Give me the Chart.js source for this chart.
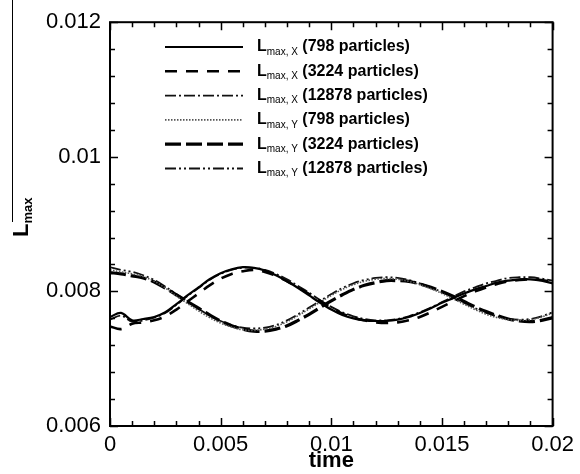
<!DOCTYPE html>
<html>
<head>
<meta charset="utf-8">
<script src="https://cdn.jsdelivr.net/npm/chart.js@4.4.1/dist/chart.umd.min.js"></script>
<style>
html,body{margin:0;padding:0;background:#fff;}
#wrap{width:580px;height:474px;position:relative;}
</style>
</head>
<body>
<div id="wrap"><canvas id="c" width="580" height="474"></canvas></div>
<script>
// ---- data ----
const times = [0,0.0005,0.001,0.0015,0.002,0.0025,0.003,0.0035,0.004,0.0045,0.005,0.0055,0.006,0.0065,0.007,0.0075,0.008,0.0085,0.009,0.0095,0.01,0.0105,0.011,0.0115,0.012,0.0125,0.013,0.0135,0.014,0.0145,0.015,0.0155,0.016,0.0165,0.017,0.0175,0.018,0.0185,0.019,0.0195,0.02];

const lmaxX_798 = [0.00762,0.00768,0.00757,0.00759,0.00762,0.00769,0.00781,0.00794,0.00806,0.00818,0.00827,0.00833,0.00836,0.00835,0.00831,0.00824,0.00815,0.00805,0.00794,0.00783,0.00773,0.00765,0.00760,0.00757,0.00756,0.00756,0.00758,0.00762,0.00768,0.00775,0.00783,0.00790,0.00797,0.00803,0.00808,0.00813,0.00816,0.00818,0.00818,0.00816,0.00812];
const lmaxX_3224 = [0.00748,0.00744,0.00752,0.00754,0.00757,0.00763,0.00773,0.00785,0.00797,0.00809,0.00819,0.00826,0.00830,0.00832,0.00829,0.00823,0.00815,0.00806,0.00796,0.00786,0.00776,0.00767,0.00761,0.00757,0.00754,0.00753,0.00754,0.00757,0.00762,0.00769,0.00777,0.00785,0.00793,0.00800,0.00806,0.00811,0.00815,0.00817,0.00818,0.00817,0.00814];
const lmaxX_12878 = [0.00758,0.00764,0.00755,0.00757,0.00761,0.00768,0.00780,0.00793,0.00805,0.00817,0.00826,0.00832,0.00835,0.00835,0.00832,0.00826,0.00818,0.00808,0.00798,0.00787,0.00777,0.00769,0.00763,0.00759,0.00757,0.00757,0.00759,0.00763,0.00769,0.00776,0.00784,0.00792,0.00800,0.00806,0.00812,0.00816,0.00820,0.00821,0.00821,0.00819,0.00816];
const lmaxY_798 = [0.00832,0.00829,0.00826,0.00822,0.00815,0.00805,0.00793,0.00782,0.00771,0.00761,0.00753,0.00747,0.00743,0.00742,0.00744,0.00748,0.00755,0.00764,0.00774,0.00784,0.00794,0.00803,0.00810,0.00815,0.00818,0.00819,0.00818,0.00815,0.00810,0.00804,0.00797,0.00789,0.00781,0.00773,0.00766,0.00761,0.00758,0.00757,0.00758,0.00762,0.00768];
const lmaxY_3224 = [0.00828,0.00826,0.00823,0.00820,0.00814,0.00805,0.00795,0.00785,0.00775,0.00765,0.00756,0.00749,0.00744,0.00741,0.00741,0.00744,0.00749,0.00757,0.00766,0.00776,0.00786,0.00795,0.00803,0.00809,0.00813,0.00816,0.00816,0.00815,0.00811,0.00806,0.00800,0.00793,0.00785,0.00777,0.00770,0.00764,0.00759,0.00756,0.00755,0.00757,0.00761];
const lmaxY_12878 = [0.00836,0.00832,0.00829,0.00824,0.00817,0.00807,0.00796,0.00785,0.00774,0.00764,0.00756,0.00750,0.00746,0.00745,0.00746,0.00750,0.00757,0.00766,0.00776,0.00786,0.00796,0.00805,0.00812,0.00817,0.00820,0.00821,0.00820,0.00817,0.00812,0.00806,0.00799,0.00791,0.00783,0.00775,0.00768,0.00763,0.00759,0.00758,0.00759,0.00763,0.00769];

const seriesSub = ["max, X","max, X","max, X","max, Y","max, Y","max, Y"];
const seriesNote = [" (798 particles)"," (3224 particles)"," (12878 particles)"," (798 particles)"," (3224 particles)"," (12878 particles)"];
const xTicks = [0,0.005,0.01,0.015,0.02];
const yTicks = [0.006,0.008,0.01,0.012];
const xTickLabels = ["0","0.005","0.01","0.015","0.02"];
const yTickLabels = ["0.006","0.008","0.01","0.012"];

const FONT = "'Liberation Sans', Arial, Helvetica, sans-serif";

const seriesValues = [lmaxX_798,lmaxX_3224,lmaxX_12878,lmaxY_798,lmaxY_3224,lmaxY_12878];
const styles = [
  {w:2.2, dash:[], color:'#000'},
  {w:2.6, dash:[12,9], color:'#000'},
  {w:1.8, dash:[11,3,2,3], color:'#111'},
  {w:1.6, dash:[1.5,1.5], color:'#555'},
  {w:3.2, dash:[16,5], color:'#000'},
  {w:1.8, dash:[11,3,2,3,2,3], color:'#111'}
];

const datasets = seriesValues.map((vals,i)=>({
  label: 'L' + seriesSub[i] + seriesNote[i],
  data: times.map((t,j)=>({x:t,y:vals[j]})),
  borderColor: styles[i].color,
  borderWidth: styles[i].w,
  borderDash: styles[i].dash,
  pointRadius: 0,
  tension: 0.35,
  fill: false
}));

const frameAndTicks = {
  id:'frameAndTicks',
  afterDraw(chart){
    const ctx = chart.ctx;
    const a = chart.chartArea;
    const xs = chart.scales.x, ys = chart.scales.y;
    ctx.save();
    ctx.strokeStyle = '#000';
    ctx.lineWidth = 2;
    ctx.strokeRect(a.left, a.top, a.right-a.left, a.bottom-a.top);
    ctx.lineWidth = 1.5;
    for (let k=0;k<=20;k++){
      const v = k*0.001;
      const px = Math.round(xs.getPixelForValue(v))+0.5;
      const len = (k%5===0)?8:5;
      ctx.beginPath();
      ctx.moveTo(px,a.bottom); ctx.lineTo(px,a.bottom-len);
      ctx.moveTo(px,a.top); ctx.lineTo(px,a.top+len);
      ctx.stroke();
    }
    for (let k=0;k<=15;k++){
      const v = 0.006 + k*0.0004;
      const py = Math.round(ys.getPixelForValue(v))+0.5;
      const len = (k%5===0)?8:5;
      ctx.beginPath();
      ctx.moveTo(a.left,py); ctx.lineTo(a.left+len,py);
      ctx.moveTo(a.right,py); ctx.lineTo(a.right-len,py);
      ctx.stroke();
    }
    // legend
    const lx0 = 165, lx1 = 243, tx = 257;
    chart.data.datasets.forEach((ds,i)=>{
      const y = 47 + i*24.3;
      ctx.save();
      ctx.strokeStyle = ds.borderColor;
      ctx.lineWidth = ds.borderWidth;
      ctx.setLineDash(ds.borderDash);
      ctx.beginPath(); ctx.moveTo(lx0,y); ctx.lineTo(lx1,y); ctx.stroke();
      ctx.restore();
      ctx.fillStyle = '#000';
      ctx.textBaseline = 'middle';
      ctx.textAlign = 'left';
      ctx.font = 'bold 16px ' + FONT;
      ctx.fillText('L', tx, y);
      let x = tx + ctx.measureText('L').width;
      ctx.font = '10px ' + FONT;
      ctx.fillText(seriesSub[i], x, y+5);
      x += ctx.measureText(seriesSub[i]).width;
      ctx.font = 'bold 16px ' + FONT;
      ctx.fillText(seriesNote[i], x, y);
    });
    // y axis title
    ctx.save();
    ctx.translate(28, 237);
    ctx.rotate(-Math.PI/2);
    ctx.fillStyle = '#000';
    ctx.textBaseline = 'alphabetic';
    ctx.textAlign = 'left';
    ctx.font = 'bold 22px ' + FONT;
    ctx.fillText('L', 0, 0);
    const lw = ctx.measureText('L').width;
    ctx.font = 'bold 13px ' + FONT;
    ctx.fillText('max', lw, 4);
    ctx.restore();
    ctx.beginPath();
    ctx.lineWidth = 1;
    ctx.moveTo(12.5,0); ctx.lineTo(12.5,222);
    ctx.stroke();
    ctx.restore();
  }
};

new Chart(document.getElementById('c'), {
  type:'line',
  data:{datasets},
  options:{
    responsive:false,
    animation:false,
    devicePixelRatio:1,
    layout:{padding:{top:17,right:25,left:0,bottom:0}},
    plugins:{legend:{display:false},tooltip:{enabled:false}},
    scales:{
      x:{
        type:'linear', min:0, max:0.02,
        afterFit(s){ s.height = 48; },
        afterBuildTicks(s){ s.ticks = xTicks.map(v=>({value:v})); },
        grid:{display:false, drawTicks:false},
        border:{display:false},
        ticks:{color:'#000', font:{family:FONT,size:22}, padding:6, maxRotation:0,
          callback:(v)=>{const i=xTicks.indexOf(v); return i>=0?xTickLabels[i]:'';}},
        title:{display:true, text:'time', color:'#000', font:{family:FONT,size:22,weight:'bold'}, padding:{top:0,bottom:0}}
      },
      y:{
        type:'linear', min:0.006, max:0.012,
        afterFit(s){ s.width = 110; },
        afterBuildTicks(s){ s.ticks = yTicks.map(v=>({value:v})); },
        grid:{display:false, drawTicks:false},
        border:{display:false},
        ticks:{color:'#000', font:{family:FONT,size:22}, padding:9,
          callback:(v)=>{const i=yTicks.indexOf(v); return i>=0?yTickLabels[i]:'';}}
      }
    }
  },
  plugins:[frameAndTicks]
});
</script>
</body>
</html>
